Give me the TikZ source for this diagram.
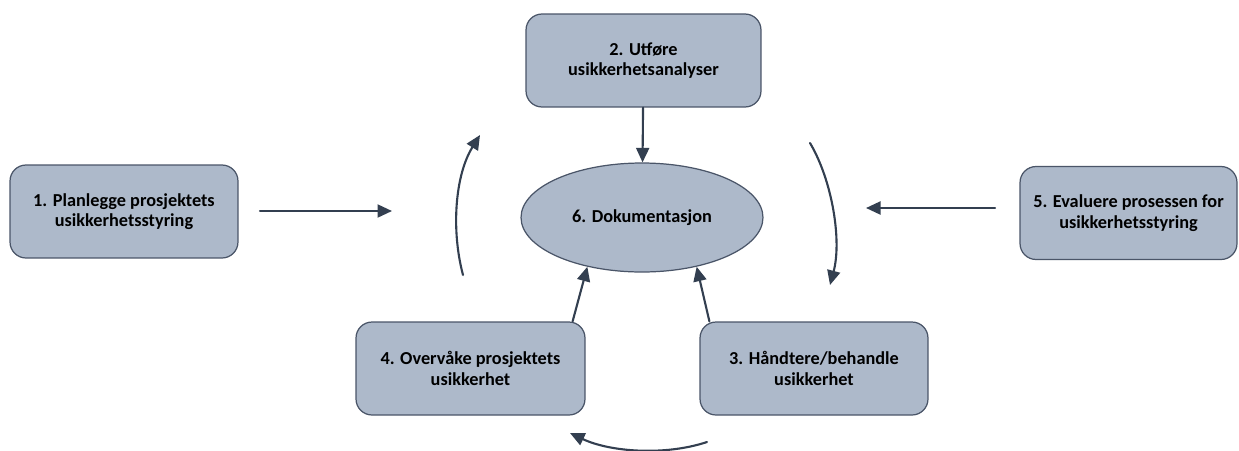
\documentclass[tikz,border=0pt]{standalone}
\usepackage{fontspec}
\setmainfont{Carlito}
\usepackage{tikz}
\usetikzlibrary{arrows.meta,shapes.geometric}
\definecolor{boxfill}{HTML}{ADB9CA}
\definecolor{boxline}{HTML}{4A5568}
\definecolor{pil}{HTML}{333F50}

\begin{document}
\begin{tikzpicture}[line cap=round,line join=round,>={Triangle[length=0.29cm,width=0.26cm]},x=0.02cm,y=-0.02cm,
	stepbox/.style={draw=boxline,line width=0.7pt,fill=boxfill,rounded corners=0.32cm,minimum width=4.56cm,minimum height=1.86cm,align=center,font=\fontsize{10.4}{11.6}\selectfont\bfseries},
	flow/.style={->,draw=pil,line width=1.2pt}]
		\useasboundingbox (0,0) rectangle (1239,450);
		% boksene
		\node[stepbox] (plan) at (124,211.5) {1. Planlegge prosjektets\\usikkerhetsstyring};
		\node[stepbox,minimum width=4.7cm] (utfore) at (643.5,60.5) {2. Utføre\\usikkerhetsanalyser};
		\node[stepbox] (handtere) at (814,368.5) {3. Håndtere/behandle\\usikkerhet};
		\node[stepbox,minimum width=4.58cm] (overvake) at (470.5,368.5) {4. Overvåke prosjektets\\usikkerhet};
		\node[stepbox,minimum width=4.34cm] (evaluere) at (1128.5,213) {5. Evaluere prosessen for\\usikkerhetsstyring};
		\node[ellipse,draw=boxline,line width=0.7pt,fill=boxfill,minimum width=4.84cm,minimum height=2.18cm,font=\fontsize{10.4}{11.6}\selectfont\bfseries] (dok) at (642,217.5) {6. Dokumentasjon};
		% frie endepunkter
		\coordinate (inn1) at (260,211);
		\coordinate (ut1) at (392,211);
		\coordinate (inn5) at (995,208);
		\coordinate (ut5) at (866,208);
		\coordinate (va) at (463,275);
		\coordinate (vb) at (480,135);
		\coordinate (ha) at (810,143);
		\coordinate (hb) at (830,285);
		\coordinate (na) at (707,442);
		\coordinate (nb) at (570,433);
		% piler
		\draw[flow] (inn1) -- (ut1);
		\draw[flow] (inn5) -- (ut5);
		\draw[flow] (utfore) -- (dok);
		\draw[flow] ([xshift=-0.26cm]overvake.north east) -- (dok.222);
		\draw[flow] ([xshift=0.2cm]handtere.north west) -- (dok.318);
		\draw[flow] (va) .. controls (451,230) and (455,175) .. (vb);
		\draw[flow] (ha) .. controls (832,180) and (842,240) .. (hb);
		\draw[flow] (na) .. controls (665,456) and (610,452) .. (nb);
\end{tikzpicture}
\end{document}
